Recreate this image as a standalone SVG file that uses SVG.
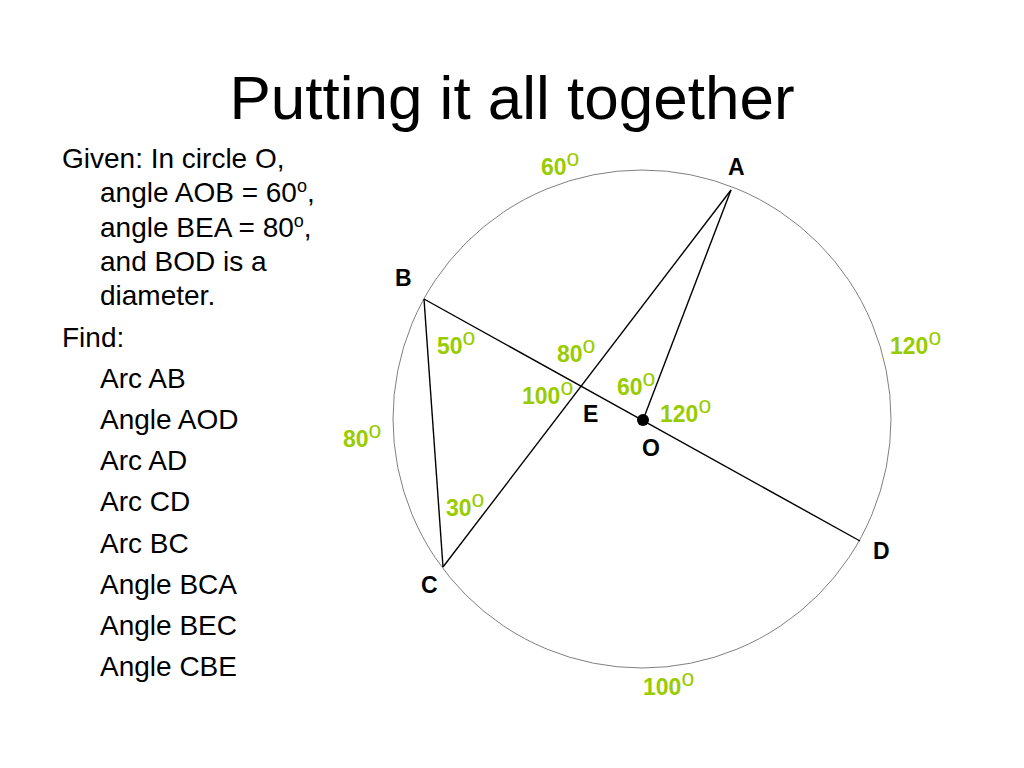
<svg xmlns="http://www.w3.org/2000/svg" width="1024" height="768" viewBox="0 0 1024 768">
<style>
text{font-family:"Liberation Sans",Arial,sans-serif}
.title{font-size:62px;fill:#000}
.body{font-size:28px;fill:#000}
.sup{font-size:18px}
.pt{font-size:23px;font-weight:bold;fill:#000}
.ang{font-size:23px;font-weight:bold;fill:#99CC00}
.deg{font-weight:normal}
.seg{stroke:#000;stroke-width:1.4;fill:none}
</style>
<rect width="1024" height="768" fill="#fff"/>
<text class="title" x="512" y="119" text-anchor="middle">Putting it all together</text>
<g id="given">
<text class="body" x="62" y="168">Given: In circle O,</text>
<text class="body" x="100" y="202">angle AOB = 60<tspan class="sup" dy="-10">o</tspan><tspan dy="10">,</tspan></text>
<text class="body" x="100" y="237">angle BEA = 80<tspan class="sup" dy="-10">o</tspan><tspan dy="10">,</tspan></text>
<text class="body" x="100" y="271">and BOD is a</text>
<text class="body" x="100" y="305">diameter.</text>
<text class="body" x="62" y="347">Find:</text>
<text class="body" x="100" y="388">Arc AB</text>
<text class="body" x="100" y="429">Angle AOD</text>
<text class="body" x="100" y="470">Arc AD</text>
<text class="body" x="100" y="511">Arc CD</text>
<text class="body" x="100" y="553">Arc BC</text>
<text class="body" x="100" y="594">Angle BCA</text>
<text class="body" x="100" y="635">Angle BEC</text>
<text class="body" x="100" y="676">Angle CBE</text>
</g>
<g id="circle"><circle cx="642" cy="419" r="249" fill="none" stroke="#808080" stroke-width="1"/></g>
<g id="connectors">
<line class="seg" x1="424" y1="299" x2="860" y2="541"/>
<line class="seg" x1="731" y1="190" x2="443" y2="567"/>
<line class="seg" x1="424" y1="299" x2="443" y2="567"/>
<line class="seg" x1="731" y1="190" x2="643" y2="420"/>
</g>
<g id="O-center"><circle cx="643" cy="420" r="6" fill="#000"/></g>
<g id="point-labels">
<text class="pt" x="728" y="175">A</text>
<text class="pt" x="395" y="286">B</text>
<text class="pt" x="421" y="593">C</text>
<text class="pt" x="873" y="559">D</text>
<text class="pt" x="583" y="422">E</text>
<text class="pt" x="642" y="456">O</text>
</g>
<g id="angle-labels">
<text class="ang" x="541" y="175">60<tspan class="deg" dy="-9">o</tspan></text>
<text class="ang" x="890" y="354">120<tspan class="deg" dy="-9">o</tspan></text>
<text class="ang" x="437" y="354">50<tspan class="deg" dy="-9">o</tspan></text>
<text class="ang" x="557" y="362">80<tspan class="deg" dy="-9">o</tspan></text>
<text class="ang" x="522" y="404">100<tspan class="deg" dy="-9">o</tspan></text>
<text class="ang" x="617" y="395">60<tspan class="deg" dy="-9">o</tspan></text>
<text class="ang" x="660" y="422">120<tspan class="deg" dy="-9">o</tspan></text>
<text class="ang" x="343" y="447">80<tspan class="deg" dy="-9">o</tspan></text>
<text class="ang" x="446" y="516">30<tspan class="deg" dy="-9">o</tspan></text>
<text class="ang" x="643" y="695">100<tspan class="deg" dy="-9">o</tspan></text>
</g>
</svg>
